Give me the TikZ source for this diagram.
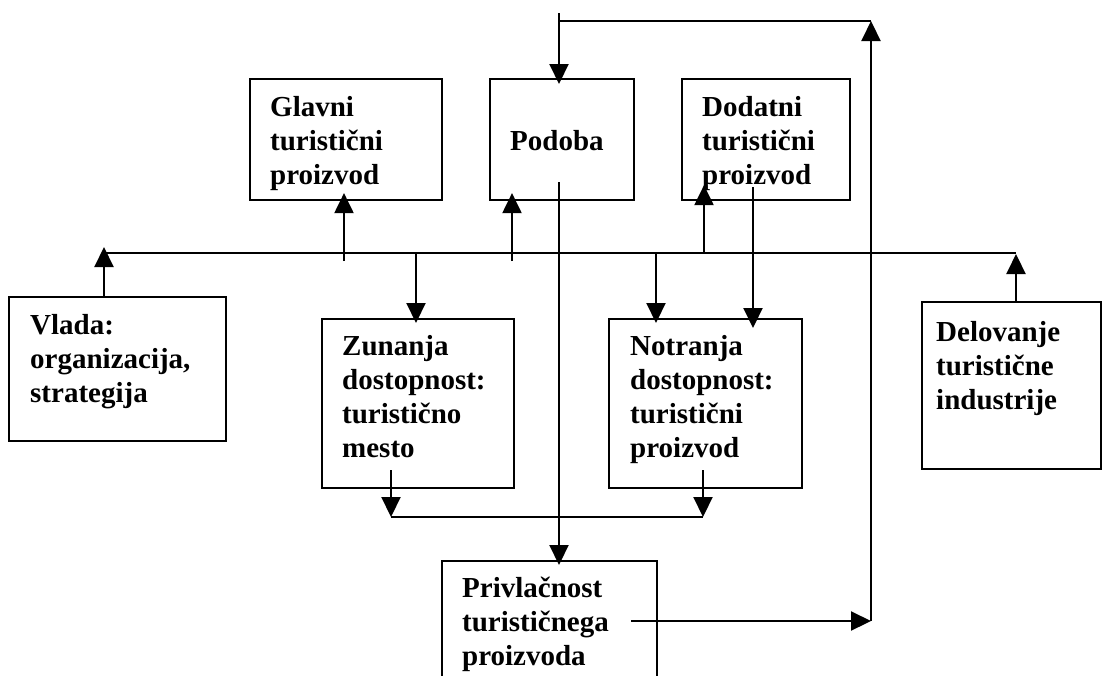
\documentclass[tikz,border=0pt]{standalone}
\usepackage{fontspec}
\setmainfont{Liberation Serif}
\usetikzlibrary{arrows.meta}
\begin{document}
\begin{tikzpicture}[x=1pt,y=-1pt,
  box/.style={draw, line width=2.1pt, inner sep=0pt, anchor=north west},
  txt/.style={anchor=base west, align=left, inner sep=0pt,
    font=\fontsize{29}{34}\selectfont\bfseries},
  ln/.style={line width=2.1pt},
  arr/.style={line width=2.1pt, -{Triangle[length=20pt,width=19pt]}}]
\clip (0,0) rectangle (1102,675);
\fill[white] (0,0) rectangle (1102,675);
% boxes
\node[box, minimum width=192pt, minimum height=121pt] (glavni) at (249,78) {};
\node[box, minimum width=144pt, minimum height=121pt] (podoba) at (489,78) {};
\node[box, minimum width=168pt, minimum height=121pt] (dodatni) at (681,78) {};
\node[box, minimum width=217pt, minimum height=144pt] (vlada) at (8,296) {};
\node[box, minimum width=192pt, minimum height=169pt] (zunanja) at (321,318) {};
\node[box, minimum width=193pt, minimum height=169pt] (notranja) at (608,318) {};
\node[box, minimum width=179pt, minimum height=167pt] (delovanje) at (921,301) {};
\node[box, minimum width=215pt, minimum height=160pt] (privl) at (441,560) {};
% texts (anchor = baseline of last line)
\node[txt] (glavniT) at (270,184) {Glavni\\turistični\\proizvod};
\node[txt] (podobaT) at (510,150) {Podoba};
\node[txt] (dodatniT) at (702,184) {Dodatni\\turistični\\proizvod};
\node[txt] (vladaT) at (30,402) {Vlada:\\organizacija,\\strategija};
\node[txt] (zunanjaT) at (342,457) {Zunanja\\dostopnost:\\turistično\\mesto};
\node[txt] (notranjaT) at (630,457) {Notranja\\dostopnost:\\turistični\\proizvod};
\node[txt] (delovanjeT) at (936,409) {Delovanje\\turistične\\industrije};
\node[txt] (privlT) at (462,665) {Privlačnost\\turističnega\\proizvoda};
% junction coordinates
\coordinate (busL) at (104,253);
\coordinate (busR) at (1016,253);
\coordinate (topL) at (559,21);
\coordinate (topR) at (871,21);
\coordinate (loopB) at (871,621);
\coordinate (joinL) at (391,517);
\coordinate (joinR) at (703,517);
% bus
\draw[ln] (busL) -- (busR);
% upward arrows into the bus / top boxes
\draw[arr] (vlada.north -| busL) -- ([yshift=6pt]busL);
\draw[arr] (delovanje.north -| busR) -- ([yshift=-1pt]busR);
\draw[arr] (344,261) -- ([yshift=8pt]glavni.south -| 344,0);
\draw[arr] (512,261) -- ([yshift=8pt]podoba.south -| 512,0);
\draw[arr] (busL -| 704,0) -- ([yshift=16pt]dodatni.south -| 704,0);
% downward arrows from the bus
\draw[arr] (busL -| 416,0) -- ([yshift=-5pt]zunanja.north -| 416,0);
\draw[arr] (busL -| 656,0) -- ([yshift=-5pt]notranja.north -| 656,0);
\draw[arr] (753,187) -- ([yshift=-10pt]notranja.north -| 753,0);
% Podoba down to Privlacnost
\draw[arr] (559,182) -- ([yshift=-5pt]privl.north -| 559,0);
% Zunanja / Notranja join
\draw[arr] (391,470) -- (joinL);
\draw[arr] (703,470) -- (joinR);
\draw[ln] (joinL) -- (joinR);
% loop back to Podoba
\draw[arr] (631,621) -- (loopB);
\draw[arr] (loopB) -- (topR);
\draw[ln] (topR) -- (topL);
\draw[arr] (559,13) -- ([yshift=-6pt]podoba.north -| 559,0);
\end{tikzpicture}
\end{document}
